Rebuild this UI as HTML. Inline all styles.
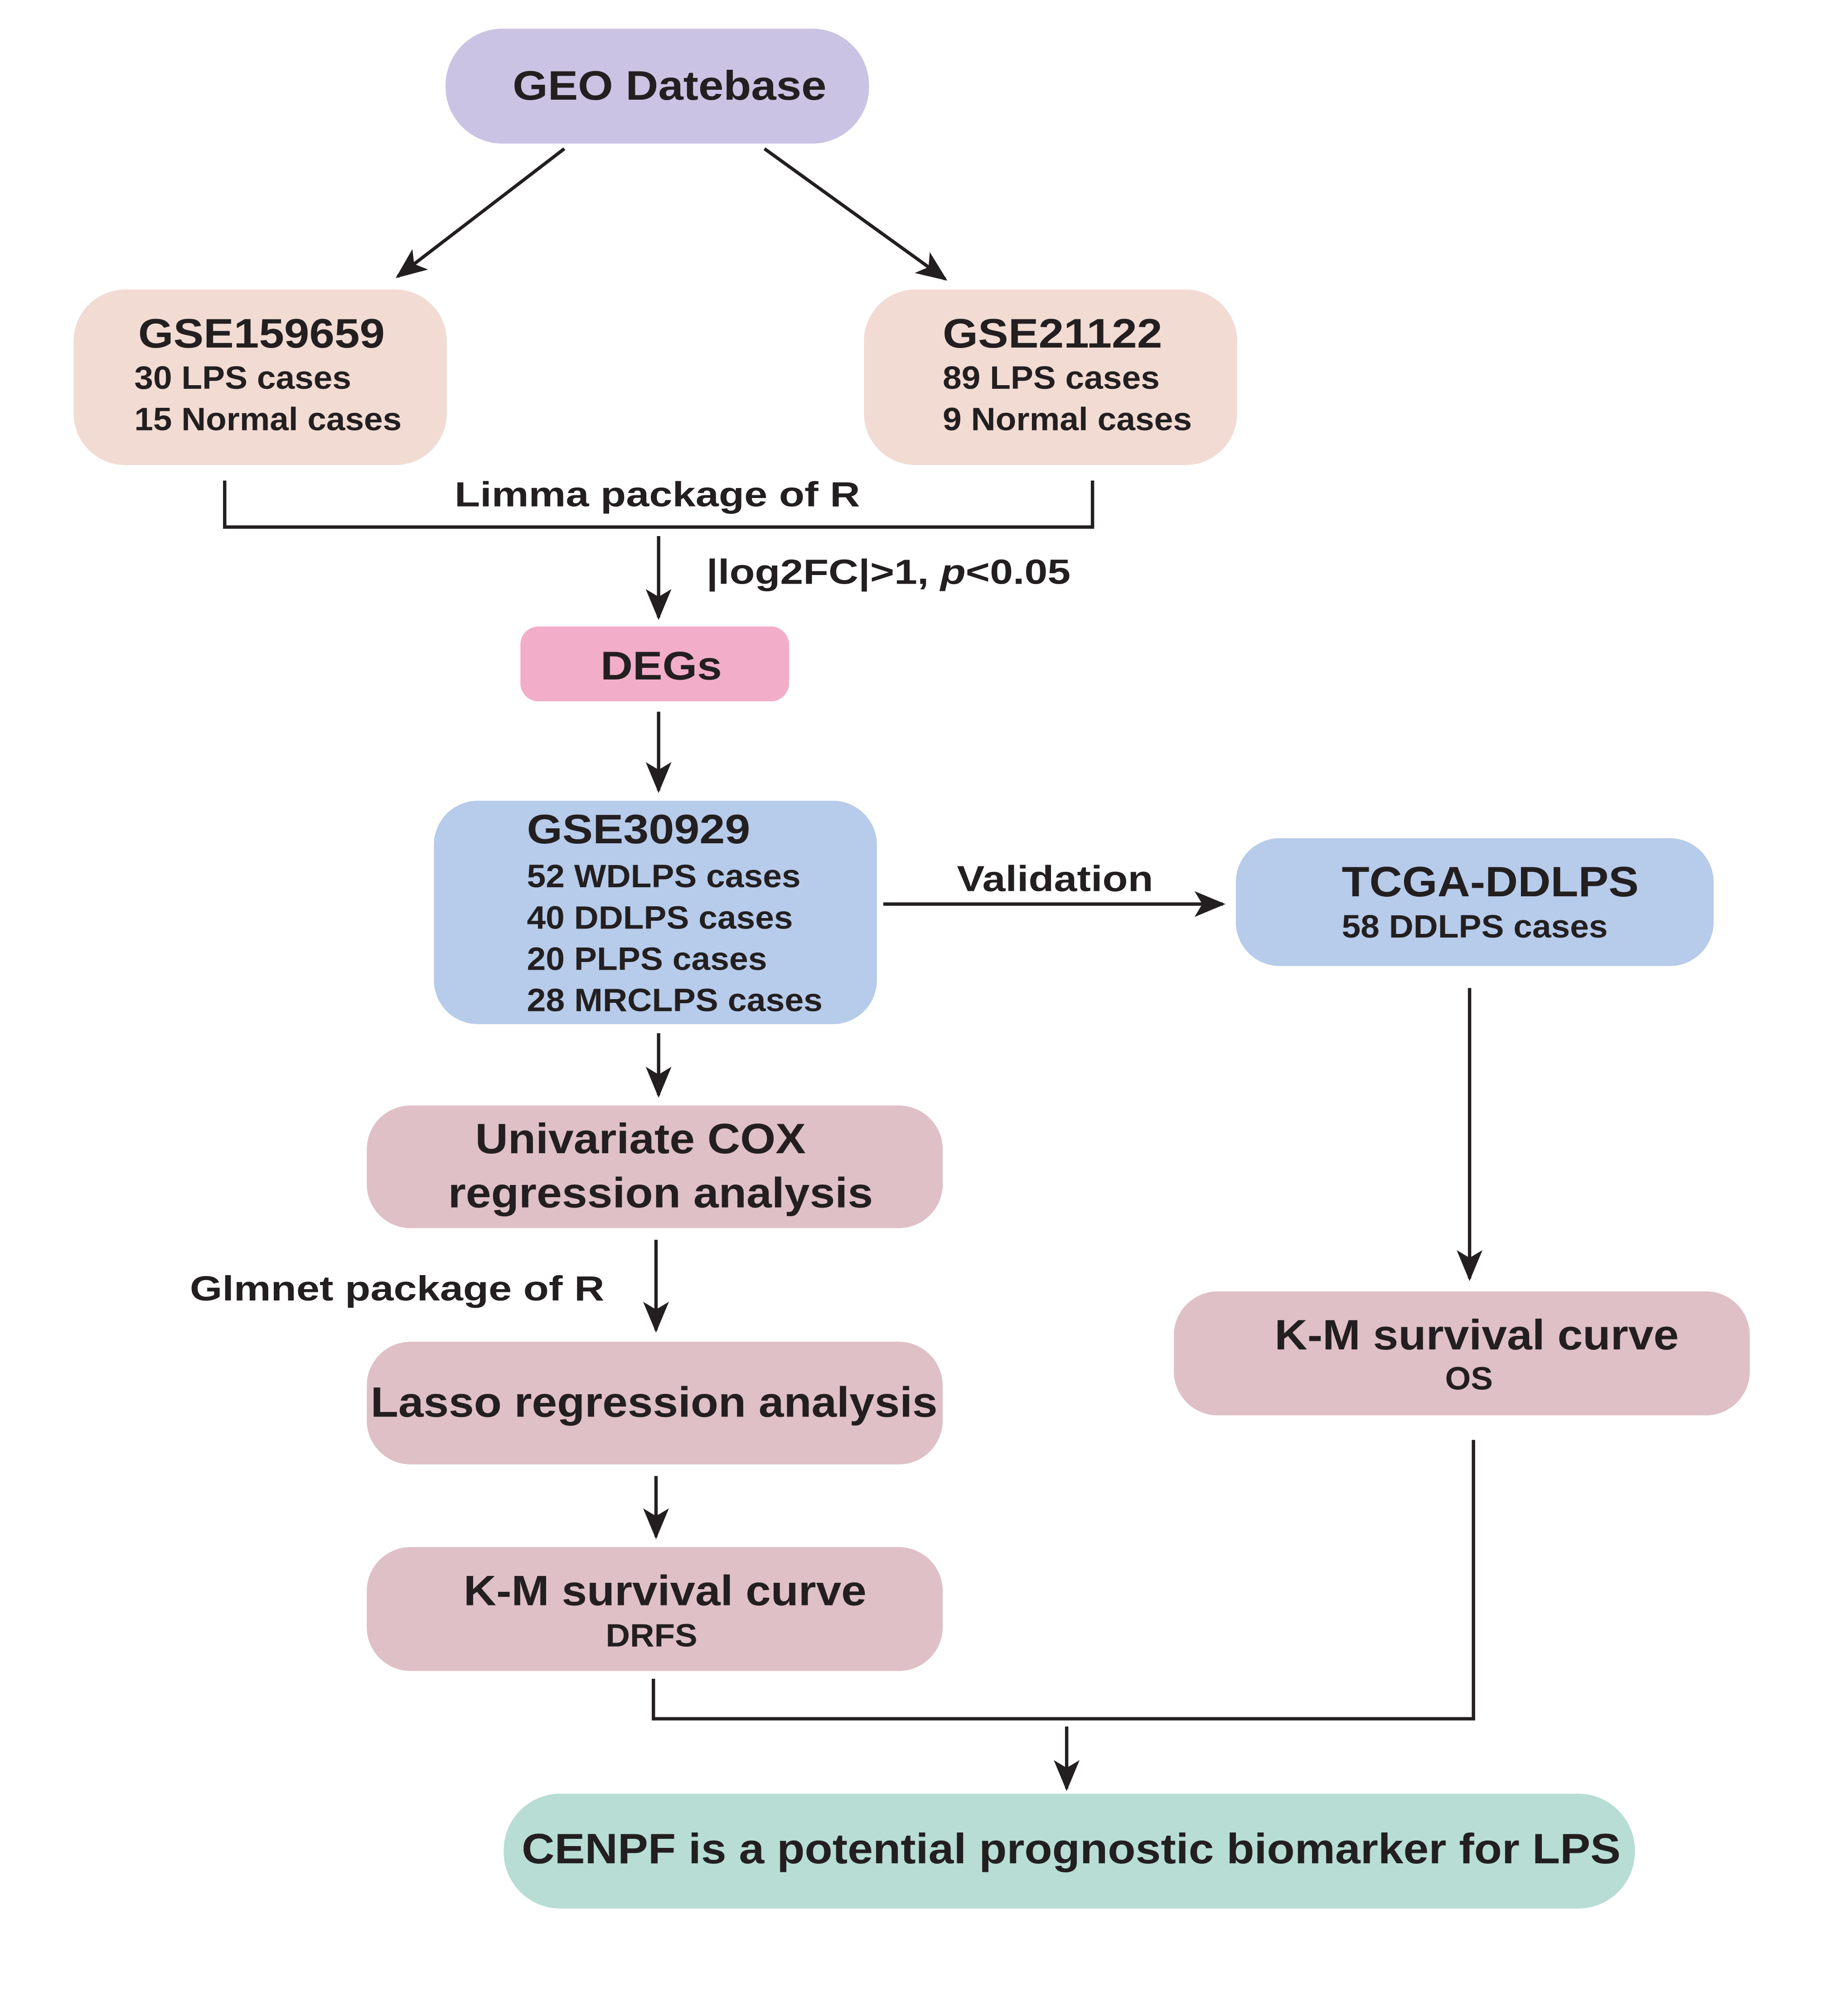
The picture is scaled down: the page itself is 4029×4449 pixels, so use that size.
<!DOCTYPE html>
<html><head><meta charset="utf-8"><style>
html,body{margin:0;padding:0;background:#fff;}
svg{display:block;}
text{font-family:"Liberation Sans",Arial,sans-serif;font-weight:bold;fill:#231f20;}
</style></head><body>
<svg width="4029" height="4449" viewBox="0 0 1414 1561" xmlns="http://www.w3.org/2000/svg">
<defs>
<marker id="ah" viewBox="0 0 24 20" refX="22" refY="10" markerWidth="24" markerHeight="20" markerUnits="userSpaceOnUse" orient="auto">
<path d="M0,0 L24,10 L0,20 L6,10 Z" fill="#231f20"/>
</marker>
</defs>
<g stroke="#231f20" stroke-width="2.6" fill="none">
<line x1="437" y1="115" x2="308" y2="214" marker-end="url(#ah)"/>
<line x1="592" y1="115" x2="732" y2="216" marker-end="url(#ah)"/>
<polyline points="174,372 174,408 846,408 846,372"/>
<line x1="510" y1="415" x2="510" y2="478" marker-end="url(#ah)"/>
<line x1="510" y1="551" x2="510" y2="612" marker-end="url(#ah)"/>
<line x1="684" y1="700" x2="947" y2="700" marker-end="url(#ah)"/>
<line x1="1138" y1="765" x2="1138" y2="990" marker-end="url(#ah)"/>
<line x1="510" y1="800" x2="510" y2="848" marker-end="url(#ah)"/>
<line x1="508" y1="960" x2="508" y2="1030" marker-end="url(#ah)"/>
<line x1="508" y1="1143" x2="508" y2="1190" marker-end="url(#ah)"/>
<polyline points="1141,1115 1141,1331 506,1331 506,1300"/>
<line x1="826" y1="1337" x2="826" y2="1385" marker-end="url(#ah)"/>
</g>
<rect x="345" y="22" width="328" height="89" rx="44" fill="#cbc3e3"/>
<rect x="57" y="224" width="289" height="136" rx="40" fill="#f1dbd3"/>
<rect x="669" y="224" width="289" height="136" rx="40" fill="#f1dbd3"/>
<rect x="403" y="485" width="208" height="58" rx="14" fill="#f2adc9"/>
<rect x="336" y="620" width="343" height="173" rx="34" fill="#b7cbea"/>
<rect x="957" y="649" width="370" height="99" rx="34" fill="#b7cbea"/>
<rect x="284" y="856" width="446" height="95" rx="34" fill="#dfc0c6"/>
<rect x="284" y="1039" width="446" height="95" rx="34" fill="#dfc0c6"/>
<rect x="284" y="1198" width="446" height="96" rx="34" fill="#dfc0c6"/>
<rect x="909" y="1000" width="446" height="96" rx="34" fill="#dfc0c6"/>
<rect x="390" y="1389" width="876" height="89" rx="44" fill="#b7ddd4"/>

<g lengthAdjust="spacingAndGlyphs">
<text x="397" y="77" font-size="32" textLength="243" lengthAdjust="spacingAndGlyphs">GEO Datebase</text>
<text x="107" y="269" font-size="32" textLength="191" lengthAdjust="spacingAndGlyphs">GSE159659</text>
<text x="104" y="301" font-size="25" textLength="168" lengthAdjust="spacingAndGlyphs">30 LPS cases</text>
<text x="104" y="333" font-size="25" textLength="207" lengthAdjust="spacingAndGlyphs">15 Normal cases</text>
<text x="730" y="269" font-size="32" textLength="170" lengthAdjust="spacingAndGlyphs">GSE21122</text>
<text x="730" y="301" font-size="25" textLength="168" lengthAdjust="spacingAndGlyphs">89 LPS cases</text>
<text x="730" y="333" font-size="25" textLength="193" lengthAdjust="spacingAndGlyphs">9 Normal cases</text>
<text x="352" y="392" font-size="27" textLength="314" lengthAdjust="spacingAndGlyphs">Limma package of R</text>
<text x="547" y="452" font-size="27" textLength="282" lengthAdjust="spacingAndGlyphs">|log2FC|&gt;1, <tspan font-style="italic">p</tspan>&lt;0.05</text>
<text x="465" y="526" font-size="31" textLength="94" lengthAdjust="spacingAndGlyphs">DEGs</text>
<text x="408" y="653" font-size="32" textLength="173" lengthAdjust="spacingAndGlyphs">GSE30929</text>
<text x="408" y="687" font-size="25" textLength="212" lengthAdjust="spacingAndGlyphs">52 WDLPS cases</text>
<text x="408" y="719" font-size="25" textLength="206" lengthAdjust="spacingAndGlyphs">40 DDLPS cases</text>
<text x="408" y="751" font-size="25" textLength="186" lengthAdjust="spacingAndGlyphs">20 PLPS cases</text>
<text x="408" y="783" font-size="25" textLength="229" lengthAdjust="spacingAndGlyphs">28 MRCLPS cases</text>
<text x="741" y="690" font-size="28" textLength="152" lengthAdjust="spacingAndGlyphs">Validation</text>
<text x="1039" y="694" font-size="33" textLength="230" lengthAdjust="spacingAndGlyphs">TCGA-DDLPS</text>
<text x="1039" y="726" font-size="25" textLength="206" lengthAdjust="spacingAndGlyphs">58 DDLPS cases</text>
<text x="368" y="893" font-size="33" textLength="256" lengthAdjust="spacingAndGlyphs">Univariate COX</text>
<text x="347" y="935" font-size="33" textLength="329" lengthAdjust="spacingAndGlyphs">regression analysis</text>
<text x="147" y="1007" font-size="27" textLength="321" lengthAdjust="spacingAndGlyphs">Glmnet package of R</text>
<text x="287" y="1097" font-size="33" textLength="439" lengthAdjust="spacingAndGlyphs">Lasso regression analysis</text>
<text x="359" y="1243" font-size="33" textLength="312" lengthAdjust="spacingAndGlyphs">K-M survival curve</text>
<text x="469" y="1275" font-size="25" textLength="71" lengthAdjust="spacingAndGlyphs">DRFS</text>
<text x="987" y="1045" font-size="33" textLength="313" lengthAdjust="spacingAndGlyphs">K-M survival curve</text>
<text x="1119" y="1076" font-size="25" textLength="37" lengthAdjust="spacingAndGlyphs">OS</text>
<text x="404" y="1443" font-size="33" textLength="851" lengthAdjust="spacingAndGlyphs">CENPF is a potential prognostic biomarker for LPS</text>
</g>
</svg>
</body></html>
